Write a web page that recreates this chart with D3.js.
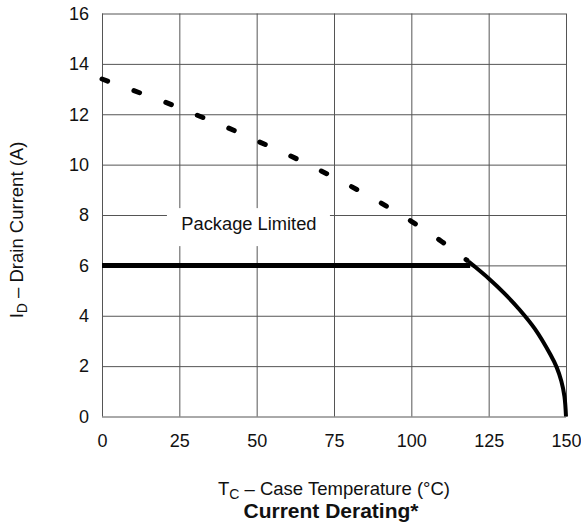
<!DOCTYPE html>
<html>
<head>
<meta charset="utf-8">
<script src="https://cdn.jsdelivr.net/npm/d3@7"></script>
<style>
  html, body { margin: 0; padding: 0; background: #fff; }
  svg { display: block; font-family: "Liberation Sans", Arial, Helvetica, sans-serif; }
  .grid line { stroke: #555; stroke-width: 1; }
  .grid path { display: none; }
  .tick-lbl text { font-size: 18px; fill: #111; }
  .tick-lbl path, .tick-lbl line { display: none; }
</style>
</head>
<body>
<svg id="chart" width="581" height="527"></svg>
<script>
(function () {
  "use strict";

  // tick values
  const xTicks = [0, 25, 50, 75, 100, 125, 150];
  const yTicks = [0, 2, 4, 6, 8, 10, 12, 14, 16];

  // dashed curve (above the package limit)
  const dashT = [0, 10, 20, 30, 40, 50, 60, 70, 80, 90, 100, 110, 118];
  const dashI = [13.4, 12.95, 12.5, 12.0, 11.5, 10.95, 10.4, 9.8, 9.17, 8.49, 7.75, 6.93, 6.2];

  // package limit line
  const limitT = [0, 119];
  const limitI = [6, 6];

  // solid derating curve
  const solidT = [118.5, 120, 125, 130, 135, 140, 145, 147, 148.5, 149.5, 150];
  const solidI = [6.15, 6.0, 5.48, 4.9, 4.24, 3.47, 2.45, 1.95, 1.4, 0.8, 0];

  const margin = { top: 13.5, left: 102, right: 15, bottom: 110.5 };
  const W = 581 - margin.left - margin.right;
  const H = 527 - margin.top - margin.bottom;

  const svg = d3.select("#chart");
  const g = svg.append("g").attr("transform", `translate(${margin.left},${margin.top})`);

  const x = d3.scaleLinear().domain([0, 150]).range([0, W]);
  const y = d3.scaleLinear().domain([0, 16]).range([H, 0]);

  // Grid
  g.append("g").attr("class", "grid")
    .attr("transform", `translate(0,${H})`)
    .call(d3.axisBottom(x).tickValues(xTicks).tickSize(-H).tickFormat(""));
  g.append("g").attr("class", "grid")
    .call(d3.axisLeft(y).tickValues(yTicks).tickSize(-W).tickFormat(""));

  // Tick labels
  g.append("g").attr("class", "tick-lbl")
    .attr("transform", `translate(0,${H})`)
    .call(d3.axisBottom(x).tickValues(xTicks).tickSize(0).tickPadding(18).tickFormat(d3.format("d")));
  g.append("g").attr("class", "tick-lbl")
    .call(d3.axisLeft(y).tickValues(yTicks).tickSize(0).tickPadding(13).tickFormat(d3.format("d")));

  const line = d3.line().x(d => x(d[0])).y(d => y(d[1])).curve(d3.curveMonotoneX);

  // dashed part
  g.append("path")
    .datum(d3.zip(dashT, dashI))
    .attr("d", line)
    .attr("fill", "none")
    .attr("stroke", "#000")
    .attr("stroke-width", 5)
    .attr("stroke-linecap", "round")
    .attr("stroke-dasharray", "6,28");

  // package limit
  g.append("path")
    .datum(d3.zip(limitT, limitI))
    .attr("d", d3.line().x(d => x(d[0])).y(d => y(d[1])))
    .attr("fill", "none")
    .attr("stroke", "#000")
    .attr("stroke-width", 5);

  // solid curve
  g.append("path")
    .datum(d3.zip(solidT, solidI))
    .attr("d", d3.line().x(d => x(d[0])).y(d => y(d[1])).curve(d3.curveCatmullRom))
    .attr("fill", "none")
    .attr("stroke", "#000")
    .attr("stroke-width", 4);

  // Package Limited label with white box
  const lbl = g.append("g").attr("transform", `translate(${x(47.5)},${y(7.4)})`);
  lbl.append("rect")
    .attr("x", -82).attr("y", -22).attr("width", 163).attr("height", 38)
    .attr("fill", "#fff");
  lbl.append("text")
    .attr("text-anchor", "middle")
    .attr("font-size", 18.3)
    .attr("fill", "#111")
    .text("Package Limited");

  // X axis label
  const cx = margin.left + W / 2;
  const xl = svg.append("text")
    .attr("x", cx).attr("y", 495)
    .attr("text-anchor", "middle")
    .attr("font-size", 18.5)
    .attr("fill", "#111");
  xl.append("tspan").text("T");
  xl.append("tspan").attr("font-size", 14).attr("dy", 4).text("C");
  xl.append("tspan").attr("dy", -4).text(" \u2013 Case Temperature (\u00B0C)");

  // Title
  svg.append("text")
    .attr("x", 331).attr("y", 518)
    .attr("text-anchor", "middle")
    .attr("font-size", 21)
    .attr("font-weight", "bold")
    .attr("fill", "#111")
    .text("Current Derating*");

  // Y axis label
  const yl = svg.append("text")
    .attr("transform", "translate(23,230) rotate(-90)")
    .attr("text-anchor", "middle")
    .attr("font-size", 18.5)
    .attr("fill", "#111");
  yl.append("tspan").text("I");
  yl.append("tspan").attr("font-size", 14).attr("dy", 4).text("D");
  yl.append("tspan").attr("dy", -4).text(" \u2013 Drain Current (A)");
})();
</script>
</body>
</html>
